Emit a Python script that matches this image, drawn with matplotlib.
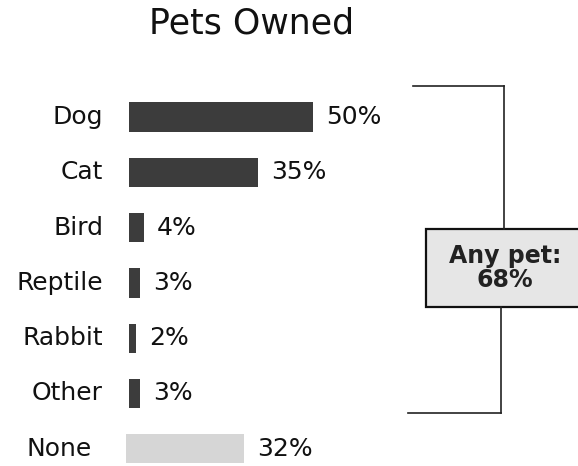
import matplotlib
matplotlib.use("Agg")
import matplotlib.pyplot as plt
from matplotlib.patches import Rectangle
from matplotlib.lines import Line2D

plt.rcParams['font.family'] = ['DejaVu Sans']

categories = ["Dog", "Cat", "Bird", "Reptile", "Rabbit", "Other", "None"]
values = [50, 35, 4, 3, 2, 3, 32]
value_labels = ["50%", "35%", "4%", "3%", "2%", "3%", "32%"]
any_pet_label = "Any pet:\n68%"
title = "Pets Owned"

W, H = 578, 466
fig = plt.figure(figsize=(W / 100, H / 100), dpi=100)
ax = fig.add_axes([0, 0, 1, 1])

# pixel-based layout: bars start at x=129, 3.68 px per percent; rows 55.3 px apart
x0, px_per = 129, 3.68
y0, row = 117, 55.3
ax.set_xlim(-x0 / px_per, (W - x0) / px_per)
ax.set_ylim((H - y0) / row, -y0 / row)
ax.axis("off")

n = len(categories)
ypos = list(range(n))
pets = ypos[:-1]
# the "no pet" row sits a little to the left of the pet rows
lefts = [0.0] * (n - 1) + [-3 / px_per]
label_x = [-26 / px_per] * (n - 1) + [-37 / px_per]
colors = ["#3c3c3c"] * (n - 1) + ["#d6d6d6"]

ax.barh(ypos, values, height=0.53, color=colors, left=lefts)

fs = 18
for y, cat, v, lab, l, lx in zip(ypos, categories, values, value_labels, lefts, label_x):
    ax.text(lx, y, cat, ha="right", va="center", fontsize=fs, color="#111111")
    ax.text(l + v + 13 / px_per, y, lab, ha="left", va="center", fontsize=fs, color="#111111")

fig.text(252 / W, 1 - 24 / H, title, ha="center", va="center", fontsize=25, color="#111111")

# bracket grouping the pet rows
def fx(p):
    return p / W

def fy(p):
    return 1 - p / H

lw = 1.2
for xs, ys in [([413, 504], [86, 86]), ([504, 504], [86, 229]),
               ([501, 501], [307, 413]), ([408, 501], [413, 413])]:
    fig.add_artist(Line2D([fx(x) for x in xs], [fy(y) for y in ys], color="#222222", lw=lw))

fig.add_artist(Rectangle((fx(426), fy(307)), fx(600) - fx(426), fy(229) - fy(307),
                         transform=fig.transFigure, facecolor="#e6e6e6",
                         edgecolor="#111111", lw=1.6, clip_on=False))
fig.text(fx(505), fy(268), any_pet_label, ha="center", va="center", fontsize=17,
         fontweight="bold", color="#222222", linespacing=1.0)

fig.savefig("out.png", dpi=100)
